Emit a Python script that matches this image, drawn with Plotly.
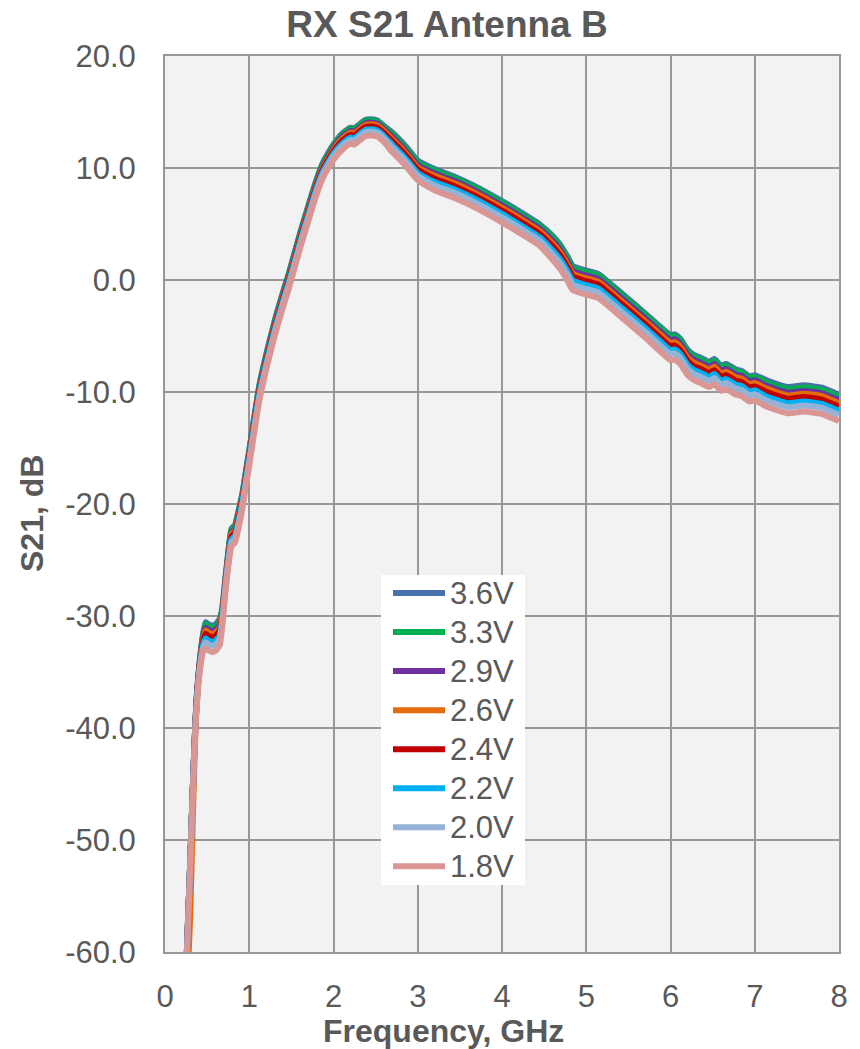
import plotly.graph_objects as go

# Frequency points (GHz)
freq = [0.20, 0.26, 0.30, 0.33, 0.36, 0.38, 0.41, 0.45, 0.48, 0.50,
        0.55, 0.60, 0.65, 0.68, 0.72, 0.76, 0.79, 0.83, 0.87, 0.92,
        0.96, 1.00, 1.05, 1.12, 1.20, 1.30, 1.40, 1.47, 1.60, 1.70,
        1.80, 1.87, 1.95, 2.00, 2.10, 2.20, 2.25, 2.30, 2.38, 2.45,
        2.52, 2.60, 2.70, 2.80, 2.90, 3.00, 3.20, 3.43, 3.66, 4.00,
        4.20, 4.45, 4.60, 4.69, 4.78, 4.84, 4.95, 5.05, 5.14, 5.43,
        5.71, 6.00, 6.05, 6.12, 6.20, 6.28, 6.36, 6.46, 6.52, 6.60,
        6.66, 6.78, 6.84, 6.94, 7.00, 7.14, 7.39, 7.58, 7.79, 8.00]

# S21 (dB) per supply voltage
s21_36 = [-74.8, -59.8, -51.8, -45.3, -39.6, -36.8, -34.2, -31.7, -30.55, -30.65,
          -30.85, -30.75, -30.25, -29.3, -26.45, -23.7, -22.2, -21.9, -20.7, -19.0,
          -17.1, -15.2, -12.7, -9.4, -6.7, -3.7, -1.1, 0.6, 4.1, 6.6,
          9.0, 10.4, 11.5, 12.1, 13.05, 13.6, 13.55, 13.85, 14.3, 14.35,
          14.25, 13.75, 13.15, 12.4, 11.55, 10.65, 9.9, 9.25, 8.45, 7.05,
          6.15, 4.95, 3.95, 3.15, 2.05, 1.25, 0.95, 0.75, 0.55, -1.25,
          -3.05, -4.9, -4.85, -5.3, -6.2, -6.7, -6.95, -7.3, -7.05, -7.65,
          -7.5, -8.0, -8.1, -8.6, -8.5, -8.95, -9.55, -9.4, -9.6, -10.25]
s21_33 = [-74.85, -59.85, -51.85, -45.35, -39.65, -36.85, -34.25, -31.8, -30.75, -30.85,
          -31.05, -30.95, -30.45, -29.4, -26.55, -23.8, -22.3, -22.0, -20.8, -19.1,
          -17.2, -15.3, -12.8, -9.5, -6.8, -3.8, -1.2, 0.5, 4.0, 6.5,
          8.9, 10.3, 11.4, 12.0, 12.95, 13.5, 13.45, 13.75, 14.2, 14.25,
          14.15, 13.65, 13.0, 12.25, 11.4, 10.5, 9.75, 9.1, 8.3, 6.9,
          6.0, 4.8, 3.8, 3.0, 1.9, 1.1, 0.8, 0.6, 0.4, -1.4,
          -3.2, -5.05, -5.0, -5.45, -6.35, -6.85, -7.1, -7.45, -7.2, -7.8,
          -7.65, -8.15, -8.25, -8.75, -8.65, -9.15, -9.75, -9.6, -9.8, -10.45]
s21_29 = [-74.9, -59.9, -51.9, -45.4, -39.7, -36.95, -34.35, -32.05, -31.05, -31.15,
          -31.35, -31.25, -30.75, -29.65, -26.7, -24.0, -22.55, -22.25, -21.05, -19.3,
          -17.4, -15.5, -13.0, -9.7, -7.0, -4.0, -1.4, 0.3, 3.8, 6.3,
          8.7, 10.1, 11.2, 11.8, 12.75, 13.3, 13.25, 13.55, 14.0, 14.05,
          13.95, 13.45, 12.75, 12.0, 11.15, 10.25, 9.5, 8.85, 8.05, 6.65,
          5.75, 4.55, 3.5, 2.7, 1.6, 0.8, 0.5, 0.3, 0.1, -1.7,
          -3.5, -5.35, -5.3, -5.75, -6.65, -7.15, -7.4, -7.75, -7.5, -8.1,
          -7.95, -8.45, -8.55, -9.05, -8.95, -9.45, -10.05, -9.9, -10.1, -10.75]
s21_26 = [-78.0, -64.0, -56.5, -48.0, -40.5, -37.1, -34.5, -32.2, -31.3, -31.4,
          -31.6, -31.5, -31.0, -29.8, -26.85, -24.15, -22.7, -22.4, -21.2, -19.45,
          -17.55, -15.65, -13.15, -9.85, -7.15, -4.15, -1.55, 0.15, 3.65, 6.15,
          8.55, 9.95, 11.05, 11.65, 12.6, 13.15, 13.1, 13.4, 13.85, 13.9,
          13.8, 13.3, 12.55, 11.8, 10.95, 10.05, 9.3, 8.65, 7.85, 6.45,
          5.55, 4.35, 3.25, 2.45, 1.35, 0.55, 0.25, 0.05, -0.15, -1.95,
          -3.75, -5.6, -5.55, -6.0, -6.9, -7.4, -7.65, -8.0, -7.75, -8.35,
          -8.2, -8.7, -8.8, -9.3, -9.2, -9.7, -10.3, -10.15, -10.35, -11.0]
s21_24 = [-75.0, -60.0, -52.0, -45.5, -39.8, -37.2, -34.6, -32.4, -31.6, -31.7,
          -31.9, -31.8, -31.3, -30.0, -27.0, -24.3, -22.9, -22.6, -21.4, -19.6,
          -17.7, -15.8, -13.3, -10.0, -7.3, -4.3, -1.7, 0.0, 3.5, 6.0,
          8.4, 9.8, 10.9, 11.5, 12.4, 12.95, 12.9, 13.2, 13.65, 13.7,
          13.6, 13.1, 12.35, 11.6, 10.75, 9.85, 9.05, 8.4, 7.6, 6.2,
          5.3, 4.1, 3.0, 2.2, 1.1, 0.3, 0.0, -0.2, -0.4, -2.2,
          -4.0, -5.9, -5.85, -6.3, -7.2, -7.7, -7.95, -8.3, -8.05, -8.65,
          -8.5, -9.0, -9.1, -9.6, -9.5, -10.0, -10.6, -10.45, -10.65, -11.3]
s21_22 = [-75.1, -60.1, -52.1, -45.6, -39.9, -37.35, -34.75, -32.65, -32.0, -32.1,
          -32.3, -32.2, -31.7, -30.25, -27.2, -24.5, -23.15, -22.85, -21.65, -19.8,
          -17.9, -16.0, -13.5, -10.2, -7.5, -4.5, -1.9, -0.2, 3.3, 5.8,
          8.2, 9.6, 10.7, 11.3, 12.15, 12.7, 12.65, 12.95, 13.4, 13.45,
          13.35, 12.85, 12.05, 11.3, 10.45, 9.55, 8.75, 8.1, 7.3, 5.9,
          5.0, 3.8, 2.65, 1.85, 0.75, -0.05, -0.35, -0.55, -0.75, -2.55,
          -4.35, -6.25, -6.2, -6.65, -7.55, -8.05, -8.3, -8.65, -8.4, -9.0,
          -8.85, -9.35, -9.45, -9.95, -9.85, -10.4, -11.0, -10.85, -11.05, -11.7]
s21_20 = [-75.2, -60.2, -52.2, -45.7, -40.0, -37.5, -34.9, -32.9, -32.35, -32.45,
          -32.65, -32.55, -32.05, -30.5, -27.35, -24.75, -23.4, -23.1, -21.9, -20.05,
          -18.15, -16.25, -13.75, -10.45, -7.75, -4.75, -2.15, -0.45, 3.05, 5.55,
          7.95, 9.35, 10.45, 11.05, 11.95, 12.5, 12.45, 12.75, 13.2, 13.25,
          13.15, 12.65, 11.8, 11.05, 10.2, 9.3, 8.45, 7.8, 7.0, 5.6,
          4.7, 3.5, 2.3, 1.5, 0.4, -0.4, -0.7, -0.9, -1.1, -2.9,
          -4.7, -6.6, -6.55, -7.0, -7.9, -8.4, -8.65, -9.0, -8.75, -9.35,
          -9.2, -9.7, -9.8, -10.3, -10.2, -10.75, -11.35, -11.2, -11.4, -12.05]
s21_18 = [-75.3, -60.3, -52.3, -45.8, -40.1, -37.75, -35.15, -33.25, -32.9, -33.0,
          -33.2, -33.1, -32.6, -30.85, -27.65, -25.05, -23.75, -23.45, -22.25, -20.35,
          -18.45, -16.55, -14.05, -10.75, -8.05, -5.05, -2.45, -0.75, 2.75, 5.25,
          7.65, 9.05, 10.15, 10.75, 11.6, 12.15, 12.1, 12.4, 12.85, 12.9,
          12.8, 12.3, 11.4, 10.65, 9.8, 8.9, 8.0, 7.35, 6.55, 5.15,
          4.25, 3.05, 1.8, 1.0, -0.1, -0.9, -1.2, -1.4, -1.6, -3.4,
          -5.2, -7.15, -7.1, -7.55, -8.45, -8.95, -9.2, -9.55, -9.3, -9.9,
          -9.75, -10.25, -10.35, -10.85, -10.75, -11.3, -11.9, -11.75, -11.95, -12.6]

labels = ["3.6V", "3.3V", "2.9V", "2.6V", "2.4V", "2.2V", "2.0V", "1.8V"]
series = [s21_36, s21_33, s21_29, s21_26, s21_24, s21_22, s21_20, s21_18]
colors = ["#4A72AA", "#00B050", "#7030A0", "#E46C0A",
          "#C00000", "#00B0F0", "#95B3D7", "#D99694"]

x_ticks = [0, 1, 2, 3, 4, 5, 6, 7, 8]
y_ticks = [-60, -50, -40, -30, -20, -10, 0, 10, 20]

FONT = "Liberation Sans, Arial, sans-serif"
TEXT = "#595959"
GRID = "#989898"

# plot-area geometry in pixels
W, H = 860, 1049
ML, MR, MT, MB = 165, 21, 56, 97
PW, PH = W - ML - MR, H - MT - MB


def px_x(p):
    return (p - ML) / PW


def px_y(p):
    return (H - MB - p) / PH


fig = go.Figure()
for name, vals, col in zip(labels, series, colors):
    fig.add_trace(go.Scatter(
        x=freq, y=vals, name=name, mode="lines",
        line=dict(color=col, width=6, shape="spline", smoothing=0.5),
        hoverinfo="skip", showlegend=False,
    ))

# legend box drawn inside the plot area
shapes = [dict(type="rect", xref="paper", yref="paper",
               x0=px_x(381), x1=px_x(525), y0=px_y(885), y1=px_y(575),
               fillcolor="white", line=dict(width=0), layer="above")]
annotations = []
row0, step = 593, 39.05
for i, (name, col) in enumerate(zip(labels, colors)):
    yc = px_y(row0 + i * step)
    shapes.append(dict(type="line", xref="paper", yref="paper",
                       x0=px_x(393), x1=px_x(445), y0=yc, y1=yc,
                       line=dict(color=col, width=6), layer="above"))
    annotations.append(dict(text=name, xref="paper", yref="paper",
                            x=px_x(448), y=yc, xanchor="left", yanchor="middle",
                            showarrow=False,
                            font=dict(family=FONT, size=31, color=TEXT)))

annotations += [
    dict(text="Frequency, GHz", xref="paper", yref="paper",
         x=px_x(443), y=px_y(1031),
         xanchor="center", yanchor="middle", showarrow=False,
         font=dict(family=FONT, size=32, color=TEXT, weight="bold")),
    dict(text="S21, dB", xref="paper", yref="paper",
         x=px_x(32), y=px_y(514),
         xanchor="center", yanchor="middle", showarrow=False, textangle=-90,
         font=dict(family=FONT, size=32, color=TEXT, weight="bold")),
]

fig.update_layout(
    width=W, height=H,
    margin=dict(l=ML, r=MR, t=MT, b=MB),
    paper_bgcolor="white",
    plot_bgcolor="#F2F2F2",
    font=dict(family=FONT, color=TEXT, size=31),
    title=dict(
        text="RX S21 Antenna B",
        font=dict(family=FONT, size=37, color=TEXT, weight="bold"),
        x=447 / W, xref="container", xanchor="center",
        y=1 - 24 / H, yref="container", yanchor="middle",
    ),
    showlegend=False,
    xaxis=dict(
        range=[0, 8], tickvals=x_ticks, ticktext=[str(v) for v in x_ticks],
        showgrid=True, gridcolor=GRID, gridwidth=2,
        showline=True, linecolor=GRID, linewidth=2, mirror=True,
        zeroline=False, ticks="", ticklabelstandoff=16,
        tickfont=dict(size=31, color=TEXT),
    ),
    yaxis=dict(
        range=[-60, 20], tickvals=y_ticks, ticktext=[f"{v:.1f}" for v in y_ticks],
        showgrid=True, gridcolor=GRID, gridwidth=2,
        showline=True, linecolor=GRID, linewidth=2, mirror=True,
        zeroline=False, ticks="", ticklabelstandoff=21,
        tickfont=dict(size=31, color=TEXT),
    ),
    shapes=shapes,
    annotations=annotations,
)

fig.write_html("out.html")
